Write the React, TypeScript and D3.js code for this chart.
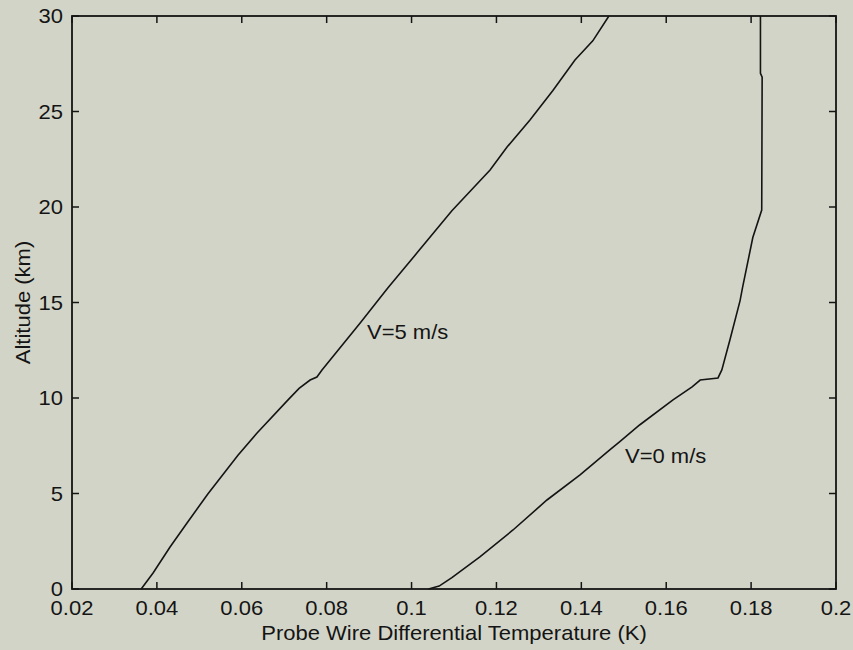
import React from "react";
import * as d3 from "d3";

const xTicks = [0.02, 0.04, 0.06, 0.08, 0.1, 0.12, 0.14, 0.16, 0.18, 0.2];
const xTickLabels = ["0.02", "0.04", "0.06", "0.08", "0.1", "0.12", "0.14", "0.16", "0.18", "0.2"];
const yTicks = [0, 5, 10, 15, 20, 25, 30];
const yTickLabels = ["0", "5", "10", "15", "20", "25", "30"];

const v5Alt = [0, 0.84, 2.2, 3.46, 4.97, 7.0, 8.17, 9.9, 10.5, 10.94, 11.1, 11.47, 13.9, 15.76, 17.6, 19.8, 21.94, 23.14, 24.56, 26.1, 27.7, 28.7, 30];
const v5Temp = [0.0363, 0.0391, 0.0431, 0.0471, 0.052, 0.0591, 0.0636, 0.0709, 0.0735, 0.0761, 0.0777, 0.0789, 0.0878, 0.0944, 0.1013, 0.1095, 0.1185, 0.1225, 0.1279, 0.1333, 0.1385, 0.1427, 0.1465];

const v0Alt = [0, 0.15, 0.6, 1.68, 3.09, 4.66, 5.97, 7.28, 7.7, 8.6, 9.9, 10.58, 10.94, 11.05, 11.47, 13.04, 15.1, 15.8, 18.4, 19.84, 26.8, 27.0, 30];
const v0Temp = [0.104, 0.1065, 0.1095, 0.1161, 0.1239, 0.1319, 0.1397, 0.1467, 0.149, 0.1538, 0.1616, 0.1661, 0.168, 0.1722, 0.1731, 0.175, 0.1774, 0.178, 0.1804, 0.1825, 0.1826, 0.1822, 0.1822];

const xLabel = "Probe Wire Differential Temperature (K)";
const yLabel = "Altitude (km)";
const v5Label = "V=5 m/s";
const v0Label = "V=0 m/s";

const W = 853;
const H = 650;
const M = { left: 72, right: 836, top: 16, bottom: 589 };
const FONT = "'Liberation Sans', Arial, sans-serif";
const FS = 20;
const INK = "#141414";
const SX = 1.1;

function App() {
  const x = d3.scaleLinear().domain([0.02, 0.2]).range([M.left, M.right]);
  const y = d3.scaleLinear().domain([0, 30]).range([M.bottom, M.top]);
  const line = d3
    .line<[number, number]>()
    .x((d) => x(d[0]))
    .y((d) => y(d[1]));
  const v5: [number, number][] = v5Alt.map((a, i) => [v5Temp[i], a]);
  const v0: [number, number][] = v0Alt.map((a, i) => [v0Temp[i], a]);
  const tl = 7;

  const T = (props: { x: number; y: number; anchor?: string; children: string }) => (
    <text
      transform={`translate(${props.x},${props.y}) scale(${SX},1)`}
      textAnchor={props.anchor || "start"}
      fontFamily={FONT}
      fontSize={FS}
      fill={INK}
    >
      {props.children}
    </text>
  );

  return (
    <svg
      width={W}
      height={H}
      style={{ position: "absolute", left: 0, top: 0, background: "#d3d4c8" }}
    >
      <rect x={0} y={0} width={W} height={H} fill="#d3d4c8" />
      {/* ticks */}
      {xTicks.map((t, i) => (
        <g key={"xt" + i}>
          <line x1={x(t)} x2={x(t)} y1={M.bottom} y2={M.bottom - tl} stroke={INK} strokeWidth={1.5} />
          <line x1={x(t)} x2={x(t)} y1={M.top} y2={M.top + tl} stroke={INK} strokeWidth={1.5} />
          <T x={x(t)} y={615} anchor="middle">{xTickLabels[i]}</T>
        </g>
      ))}
      {yTicks.map((t, i) => (
        <g key={"yt" + i}>
          <line x1={M.left} x2={M.left + tl} y1={y(t)} y2={y(t)} stroke={INK} strokeWidth={1.5} />
          <line x1={M.right} x2={M.right - tl} y1={y(t)} y2={y(t)} stroke={INK} strokeWidth={1.5} />
          <T x={63} y={y(t) + 7} anchor="end">{yTickLabels[i]}</T>
        </g>
      ))}
      <path d={line(v5) || ""} fill="none" stroke={INK} strokeWidth={1.6} />
      <path d={line(v0) || ""} fill="none" stroke={INK} strokeWidth={1.6} />
      <rect
        x={M.left}
        y={M.top}
        width={M.right - M.left}
        height={M.bottom - M.top}
        fill="none"
        stroke={INK}
        strokeWidth={1.8}
      />
      <T x={367} y={339}>{v5Label}</T>
      <T x={625} y={463}>{v0Label}</T>
      <T x={454} y={640} anchor="middle">{xLabel}</T>
      <text
        transform={`translate(30,${(M.top + M.bottom) / 2}) rotate(-90) scale(${SX},1)`}
        textAnchor="middle"
        fontFamily={FONT}
        fontSize={FS}
        fill={INK}
      >
        {yLabel}
      </text>
    </svg>
  );
}

export default App;
